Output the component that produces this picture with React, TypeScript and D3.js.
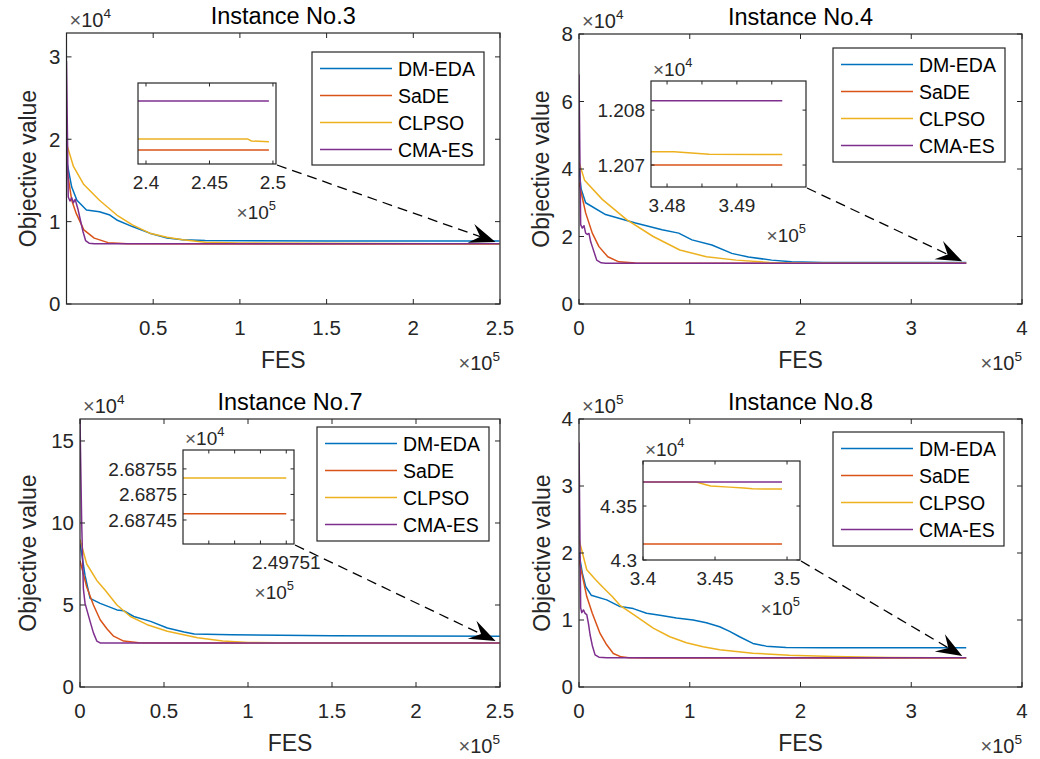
import React from "react";
import * as d3 from "d3";

type Pt = [number, number];

const SERIES = ["DM-EDA", "SaDE", "CLPSO", "CMA-ES"];
const COLORS = ["#0072BD", "#D95319", "#EDB120", "#7E2F8E"];

// ---- Instance No.3 ----
const n3DmEda: Pt[] = [[0, 17500], [3000, 14200], [6000, 12600], [11500, 11400], [19000, 11200], [25000, 10800], [29000, 10200], [38000, 9400], [48000, 8600], [58000, 8000], [67000, 7800], [80000, 7700], [150000, 7660], [249680, 7650]];
const n3Sade: Pt[] = [[0, 16700], [3000, 12600], [5600, 11000], [10000, 9000], [16000, 8000], [24000, 7450], [35000, 7300], [249680, 7278.6]];
const n3Clpso: Pt[] = [[0, 19500], [4000, 16700], [10000, 14500], [19000, 12600], [29000, 10800], [38000, 9600], [48000, 8600], [58000, 8100], [67000, 7800], [80000, 7500], [100000, 7400], [249680, 7283.8]];
const n3Cma: Pt[] = [[0, 29500], [1000, 13000], [2000, 12500], [3000, 12900], [4000, 12300], [5000, 12700], [6500, 11600], [8000, 10200], [9500, 8800], [11000, 7700], [13000, 7380], [16000, 7320], [249680, 7308.9]];
const n3InsetSade: Pt[] = [[239000, 7278.6], [249680, 7278.6]];
const n3InsetClpso: Pt[] = [[239000, 7285.5], [248000, 7285.5], [248300, 7284.2], [249680, 7283.8]];
const n3InsetCma: Pt[] = [[239000, 7308.9], [249680, 7308.9]];
const n3XTicks = [50000, 100000, 150000, 200000, 250000];
const n3XLabels = ["0.5", "1", "1.5", "2", "2.5"];
const n3YTicks = [0, 10000, 20000, 30000];
const n3YLabels = ["0", "1", "2", "3"];
const n3InXTicks = [240000, 245000, 250000];
const n3InXLabels = ["2.4", "2.45", "2.5"];

// ---- Instance No.4 ----
const n4DmEda: Pt[] = [[0, 40000], [2000, 34000], [6000, 30000], [24000, 26500], [51000, 24000], [75000, 22000], [90000, 21000], [102000, 19000], [120000, 17500], [138000, 15000], [153000, 13900], [174000, 13000], [192000, 12500], [220000, 12320], [349650, 12300]];
const n4Sade: Pt[] = [[0, 36000], [6000, 27000], [12000, 21000], [18000, 17000], [26000, 14000], [36000, 12500], [51000, 12120], [100000, 12080], [349650, 12070]];
const n4Clpso: Pt[] = [[0, 42000], [5000, 36700], [21000, 31000], [43000, 25000], [67000, 20000], [91000, 16000], [115000, 14000], [142000, 13000], [172000, 12300], [210000, 12100], [349650, 12071.9]];
const n4Cma: Pt[] = [[0, 68000], [1500, 23500], [3000, 22500], [4500, 23200], [6000, 21000], [7500, 20600], [9000, 20900], [10500, 18500], [12000, 17000], [16000, 13000], [20000, 12200], [24000, 12090], [349650, 12081.7]];
const n4InsetSade: Pt[] = [[347700, 12070], [349650, 12070]];
const n4InsetClpso: Pt[] = [[347700, 12072.4], [348100, 12072.4], [348400, 12072.15], [348600, 12071.95], [349650, 12071.9]];
const n4InsetCma: Pt[] = [[347700, 12081.7], [349650, 12081.7]];
const n4XTicks = [0, 100000, 200000, 300000, 400000];
const n4XLabels = ["0", "1", "2", "3", "4"];
const n4YTicks = [0, 20000, 40000, 60000, 80000];
const n4YLabels = ["0", "2", "4", "6", "8"];
const n4InXTicks = [348000, 348500, 349000, 349500];
const n4InXLabels = ["3.48", "", "3.49", ""];
const n4InYTicks = [12070, 12080];
const n4InYLabels = ["1.207", "1.208"];

// ---- Instance No.7 ----
const n7DmEda: Pt[] = [[0, 88000], [3000, 68000], [6000, 54000], [12000, 51000], [22000, 47000], [26000, 46500], [32000, 43000], [42000, 40000], [52000, 36000], [62000, 33500], [68000, 32300], [90000, 31800], [150000, 31300], [249751, 31000]];
const n7Sade: Pt[] = [[0, 77000], [4000, 61000], [8000, 50000], [12000, 41000], [16000, 35500], [20000, 31000], [26000, 28000], [35000, 27000], [60000, 26880], [249751, 26874.62]];
const n7Clpso: Pt[] = [[0, 90000], [4000, 75000], [10000, 65000], [15000, 59000], [22000, 50000], [30000, 43000], [40000, 38000], [52000, 34000], [70000, 30000], [85000, 28000], [100000, 27200], [130000, 26900], [249751, 26875.32]];
const n7Cma: Pt[] = [[0, 163000], [1000, 100000], [2000, 60000], [3000, 51000], [6000, 40000], [8000, 33000], [10000, 28000], [12000, 26900], [249751, 26873.5]];
const n7InsetSade: Pt[] = [[249747, 26874.62], [249751, 26874.62]];
const n7InsetClpso: Pt[] = [[249747, 26875.32], [249751, 26875.32]];
const n7XTicks = [0, 50000, 100000, 150000, 200000, 250000];
const n7XLabels = ["0", "0.5", "1", "1.5", "2", "2.5"];
const n7YTicks = [0, 50000, 100000, 150000];
const n7YLabels = ["0", "5", "10", "15"];
const n7InXTicks = [249748, 249749, 249750, 249751];
const n7InXLabels = ["", "", "", "2.49751"];
const n7InYTicks = [26874.5, 26875, 26875.5];
const n7InYLabels = ["2.68745", "2.6875", "2.68755"];

// ---- Instance No.8 ----
const n8DmEda: Pt[] = [[0, 200000], [3000, 170000], [6000, 150000], [11000, 137000], [25000, 130000], [37000, 120000], [49000, 117000], [61000, 110000], [73000, 107000], [88000, 103000], [103000, 100000], [115000, 96000], [127000, 90000], [136000, 83000], [145000, 75000], [157000, 65000], [169000, 61000], [187000, 59000], [220000, 58600], [349650, 58500]];
const n8Sade: Pt[] = [[0, 190000], [7000, 135000], [12000, 110000], [19000, 80000], [25000, 63000], [31000, 50000], [38000, 45000], [45000, 43600], [60000, 43250], [349650, 43148]];
const n8Clpso: Pt[] = [[0, 220000], [7000, 175000], [15000, 160000], [22000, 148000], [30000, 135000], [37000, 122000], [52000, 105000], [67000, 88000], [82000, 75000], [97000, 66000], [112000, 60000], [127000, 55500], [157000, 50500], [190000, 47500], [230000, 45500], [280000, 44200], [320000, 43800], [349650, 43657]];
const n8Cma: Pt[] = [[0, 365000], [1500, 118000], [2500, 111000], [4000, 115000], [5500, 110000], [7000, 108000], [8500, 95000], [10000, 78000], [12000, 62000], [14500, 48000], [18000, 44500], [25000, 43760], [349650, 43722]];
const n8InsetSade: Pt[] = [[340000, 43148], [349650, 43148]];
const n8InsetClpso: Pt[] = [[340000, 43722], [343700, 43722], [344300, 43700], [344700, 43685], [346000, 43675], [347000, 43666], [347600, 43659], [349650, 43657]];
const n8InsetCma: Pt[] = [[340000, 43722], [349650, 43722]];
const n8XTicks = n4XTicks;
const n8XLabels = n4XLabels;
const n8YTicks = [0, 100000, 200000, 300000, 400000];
const n8YLabels = ["0", "1", "2", "3", "4"];
const n8InXTicks = [340000, 345000, 350000];
const n8InXLabels = ["3.4", "3.45", "3.5"];
const n8InYTicks = [43000, 43500];
const n8InYLabels = ["4.3", "4.35"];

const FONT = "'Liberation Sans', Arial, Helvetica, sans-serif";
const AX = "#262626";

const panels = [
  {
    id: "p3", title: "Instance No.3", yExp: "4",
    box: { left: 66.5, top: 33, w: 433.5, h: 271 }, ylabelX: 28,
    xDomain: [0, 250000], yDomain: [0, 32900],
    xTicks: n3XTicks, xLabels: n3XLabels, yTicks: n3YTicks, yLabels: n3YLabels,
    series: [n3DmEda, n3Sade, n3Clpso, n3Cma],
    legend: { x: 312, y: 52, w: 172, h: 113 },
    inset: {
      left: 138, top: 83, w: 138, h: 81, xDomain: [239370, 250240], yDomain: [7270, 7320],
      xTicks: n3InXTicks, xLabels: n3InXLabels, yTicks: [] as number[], yLabels: [] as string[],
      series: [[null, n3InsetSade], [null, n3InsetClpso], [null, n3InsetCma]].map((d, i) => ({ c: i + 1, d: d[1] as Pt[] })),
    },
  },
  {
    id: "p4", title: "Instance No.4", yExp: "4",
    box: { left: 579, top: 34, w: 443, h: 270 }, ylabelX: 541,
    xDomain: [0, 400000], yDomain: [0, 80000],
    xTicks: n4XTicks, xLabels: n4XLabels, yTicks: n4YTicks, yLabels: n4YLabels,
    series: [n4DmEda, n4Sade, n4Clpso, n4Cma],
    legend: { x: 833, y: 48, w: 172, h: 114 },
    inset: {
      left: 651, top: 81, w: 155, h: 106, xDomain: [347770, 349990], yDomain: [12066, 12085.3],
      xTicks: n4InXTicks, xLabels: n4InXLabels, yTicks: n4InYTicks, yLabels: n4InYLabels,
      series: [{ c: 1, d: n4InsetSade }, { c: 2, d: n4InsetClpso }, { c: 3, d: n4InsetCma }],
    },
  },
  {
    id: "p7", title: "Instance No.7", yExp: "4",
    box: { left: 80, top: 419, w: 420, h: 268 }, ylabelX: 28,
    xDomain: [0, 250000], yDomain: [0, 163400],
    xTicks: n7XTicks, xLabels: n7XLabels, yTicks: n7YTicks, yLabels: n7YLabels,
    series: [n7DmEda, n7Sade, n7Clpso, n7Cma],
    legend: { x: 317, y: 427, w: 172, h: 114 },
    inset: {
      left: 183, top: 450, w: 111, h: 94, xDomain: [249747, 249751.3], yDomain: [26874.03, 26875.87],
      xTicks: n7InXTicks, xLabels: n7InXLabels, yTicks: n7InYTicks, yLabels: n7InYLabels,
      series: [{ c: 1, d: n7InsetSade }, { c: 2, d: n7InsetClpso }],
    },
  },
  {
    id: "p8", title: "Instance No.8", yExp: "5",
    box: { left: 579, top: 419, w: 443, h: 268 }, ylabelX: 542,
    xDomain: [0, 400000], yDomain: [0, 400000],
    xTicks: n8XTicks, xLabels: n8XLabels, yTicks: n8YTicks, yLabels: n8YLabels,
    series: [n8DmEda, n8Sade, n8Clpso, n8Cma],
    legend: { x: 833, y: 432, w: 171, h: 114 },
    inset: {
      left: 643, top: 461, w: 157, h: 99, xDomain: [340000, 350900], yDomain: [43000, 43917],
      xTicks: n8InXTicks, xLabels: n8InXLabels, yTicks: n8InYTicks, yLabels: n8InYLabels,
      series: [{ c: 1, d: n8InsetSade }, { c: 2, d: n8InsetClpso }, { c: 3, d: n8InsetCma }],
    },
  },
];

function Exp({ x, y, p, anchor, size = 20 }: { x: number; y: number; p: string; anchor: string; size?: number }) {
  return (
    <text x={x} y={y} fontSize={size} fill={AX} textAnchor={anchor}>
      <tspan fill="#555">×</tspan>10
      <tspan dy={-9} fontSize={size * 0.68}>{p}</tspan>
    </text>
  );
}

function Ticks({ xs, ys, xt, yt, len }: any) {
  const [x0, x1] = xs.range();
  const [y0, y1] = ys.range();
  return (
    <g stroke={AX} strokeWidth={1}>
      {xt.map((t: number, i: number) => (
        <g key={"x" + i}>
          <line x1={xs(t)} x2={xs(t)} y1={y0} y2={y0 - len} />
          <line x1={xs(t)} x2={xs(t)} y1={y1} y2={y1 + len} />
        </g>
      ))}
      {yt.map((t: number, i: number) => (
        <g key={"y" + i}>
          <line x1={x0} x2={x0 + len} y1={ys(t)} y2={ys(t)} />
          <line x1={x1} x2={x1 - len} y1={ys(t)} y2={ys(t)} />
        </g>
      ))}
    </g>
  );
}

function Panel({ cfg }: { cfg: any }) {
  const { box, inset, legend } = cfg;
  const xs = d3.scaleLinear().domain(cfg.xDomain).range([box.left, box.left + box.w]);
  const ys = d3.scaleLinear().domain(cfg.yDomain).range([box.top + box.h, box.top]);
  const line = d3.line<Pt>().x((d) => xs(d[0])).y((d) => ys(d[1]));

  const ixs = d3.scaleLinear().domain(inset.xDomain).range([inset.left, inset.left + inset.w]);
  const iys = d3.scaleLinear().domain(inset.yDomain).range([inset.top + inset.h, inset.top]);
  const iline = d3.line<Pt>().x((d) => ixs(d[0])).y((d) => iys(d[1]));

  // arrow from inset corner to end of curves
  const sade = cfg.series[1] as Pt[];
  const last = sade[sade.length - 1];
  const sx = inset.left + inset.w + 1;
  const sy = inset.top + inset.h + 1;
  const ex = xs(last[0]) - 4;
  const ey = ys(last[1]) - 2;
  const len = Math.hypot(ex - sx, ey - sy);
  const ux = (ex - sx) / len, uy = (ey - sy) / len;
  const nx = -uy, ny = ux;
  const L = 26, W = 10;
  const bx = ex - ux * L, by = ey - uy * L;
  const kx = ex - ux * L * 0.62, ky = ey - uy * L * 0.62;
  const head = [[ex, ey], [bx + nx * W, by + ny * W], [kx, ky], [bx - nx * W, by - ny * W]];

  const cx = box.left + box.w / 2;
  const bottom = box.top + box.h;

  return (
    <g>
      <defs>
        <clipPath id={cfg.id + "c"}>
          <rect x={box.left} y={box.top} width={box.w} height={box.h} />
        </clipPath>
        <clipPath id={cfg.id + "i"}>
          <rect x={inset.left} y={inset.top} width={inset.w} height={inset.h} />
        </clipPath>
      </defs>
      <rect x={box.left} y={box.top} width={box.w} height={box.h} fill="#fff" />
      <g clipPath={`url(#${cfg.id}c)`} fill="none" strokeWidth={1.5} strokeLinejoin="round">
        {cfg.series.map((s: Pt[], i: number) => (
          <path key={i} d={line(s) || ""} stroke={COLORS[i]} />
        ))}
      </g>
      <Ticks xs={xs} ys={ys} xt={cfg.xTicks} yt={cfg.yTicks} len={5} />
      <rect x={box.left} y={box.top} width={box.w} height={box.h} fill="none" stroke={AX} strokeWidth={1.2} />
      <g fontSize={20.5} fill={AX}>
        {cfg.xTicks.map((t: number, i: number) => (
          <text key={i} x={xs(t)} y={bottom + 31} textAnchor="middle">{cfg.xLabels[i]}</text>
        ))}
        {cfg.yTicks.map((t: number, i: number) => (
          <text key={i} x={box.left - 6} y={ys(t)} dy="0.36em" textAnchor="end">{cfg.yLabels[i]}</text>
        ))}
      </g>
      <text x={cx} y={box.top - 9} fontSize={23.5} textAnchor="middle" fill="#000">{cfg.title}</text>
      <text x={cx} y={bottom + 64} fontSize={23} textAnchor="middle" fill={AX}>FES</text>
      <text transform={`translate(${cfg.ylabelX},${box.top + box.h / 2}) rotate(-90)`} dy="0.36em" fontSize={23} textAnchor="middle" fill={AX}>Objective value</text>
      <Exp x={box.left + 3} y={box.top - 6} p={cfg.yExp} anchor="start" />
      <Exp x={box.left + box.w} y={bottom + 66} p="5" anchor="end" />

      {/* dashed zoom arrow */}
      <line x1={sx} y1={sy} x2={kx} y2={ky} stroke="#000" strokeWidth={1.3} strokeDasharray="10,6" />
      <polygon points={head.map((p) => p.join(",")).join(" ")} fill="#000" />

      {/* legend */}
      <rect x={legend.x} y={legend.y} width={legend.w} height={legend.h} fill="#fff" stroke={AX} strokeWidth={1.2} />
      {SERIES.map((name, i) => {
        const yy = legend.y + 16.5 + i * 27;
        return (
          <g key={name}>
            <line x1={legend.x + 8} x2={legend.x + 80} y1={yy} y2={yy} stroke={COLORS[i]} strokeWidth={1.5} />
            <text x={legend.x + 86} y={yy} dy="0.36em" fontSize={19.5} fill="#000">{name}</text>
          </g>
        );
      })}

      {/* inset */}
      <rect x={inset.left} y={inset.top} width={inset.w} height={inset.h} fill="#fff" />
      <g clipPath={`url(#${cfg.id}i)`} fill="none" strokeWidth={1.5}>
        {inset.series.map((s: any, i: number) => (
          <path key={i} d={iline(s.d) || ""} stroke={COLORS[s.c]} />
        ))}
      </g>
      <Ticks xs={ixs} ys={iys} xt={inset.xTicks} yt={inset.yTicks} len={3.5} />
      <rect x={inset.left} y={inset.top} width={inset.w} height={inset.h} fill="none" stroke={AX} strokeWidth={1.2} />
      <g fontSize={19} fill={AX}>
        {inset.xTicks.map((t: number, i: number) => (
          <text key={i} x={ixs(t)} y={inset.top + inset.h + 25} textAnchor="middle">{inset.xLabels[i]}</text>
        ))}
        {inset.yTicks.map((t: number, i: number) => (
          <text key={i} x={inset.left - 6} y={iys(t)} dy="0.36em" textAnchor="end">{inset.yLabels[i]}</text>
        ))}
      </g>
      {inset.yTicks.length > 0 && <Exp x={inset.left + 2} y={inset.top - 5} p="4" anchor="start" size={19} />}
      <Exp x={inset.left + inset.w} y={inset.top + inset.h + 55} p="5" anchor="end" size={19} />
    </g>
  );
}

export default function App() {
  return (
    <svg width={1040} height={759} style={{ position: "absolute", left: 0, top: 0, background: "#fff" }} fontFamily={FONT}>
      <rect width={1040} height={759} fill="#fff" />
      {panels.map((p) => (
        <Panel key={p.id} cfg={p} />
      ))}
    </svg>
  );
}
